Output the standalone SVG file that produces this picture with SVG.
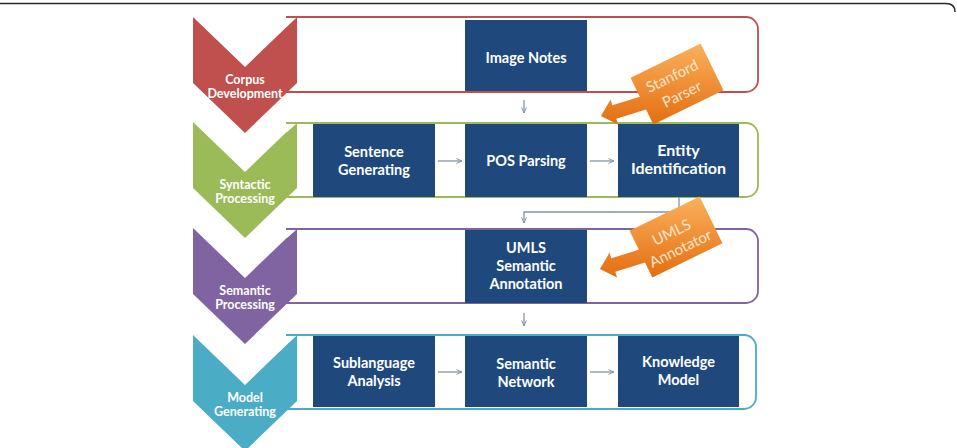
<svg xmlns="http://www.w3.org/2000/svg" xmlns:xlink="http://www.w3.org/1999/xlink" width="957" height="448" viewBox="0 0 957 448">
<defs>
<style>
.box{fill:#1f497d}
.bt{font-family:Lato,"Open Sans","Liberation Sans",sans-serif;font-weight:bold;font-size:14.5px;fill:#ffffff;text-anchor:middle}
.ct{font-family:Lato,"Open Sans","Liberation Sans",sans-serif;font-weight:bold;font-size:12.5px;fill:#ffffff;text-anchor:middle}
.ot{font-family:Lato,"Open Sans","Liberation Sans",sans-serif;font-size:15px;fill:#fde6cc;text-anchor:middle}
.conn{stroke:#8593a8;stroke-width:1.3;fill:none;marker-end:url(#ah)}
.tri{fill:#ffffff}
.frame{fill:none;stroke-width:1.8}
</style>
<marker id="ah" viewBox="0 0 10 10" refX="9" refY="5" markerWidth="7" markerHeight="7" markerUnits="userSpaceOnUse" orient="auto">
<path d="M1,1.5 L9,5 L1,8.5" fill="none" stroke="#8593a8" stroke-width="1.4"/>
</marker>
<linearGradient id="og" gradientUnits="userSpaceOnUse" x1="0" y1="-42" x2="0" y2="42">
<stop offset="0" stop-color="#fbb25e"/>
<stop offset="1" stop-color="#e36d10"/>
</linearGradient>
<g id="callout" fill="url(#og)">
<polygon points="-46.45,-6.29 23.67,-40.45 46.45,6.29 -23.67,40.45"/>
<polygon points="-30.2,10.5 -64.7,21.3 -66.4,15.6 -76.1,32 -59,40.6 -60.7,34.8 -26.2,23.9"/>
</g>
</defs>

<path d="M0,3.5 H946 Q955,3.5 955,12" fill="none" stroke="#2a2a2a" stroke-width="1.6"/>

<g id="row-corpus">
<polygon points="193,17 245,67 297,17 297,83 245,133 193,83" fill="#c0504d"/>
<path class="frame" stroke="#c0504d" d="M286,17 H746 A12,12 0 0 1 758,29 V80 A12,12 0 0 1 746,92 H286"/>
<polygon class="tri" points="287,18 296,18 287,26"/>
<text class="ct" x="245" y="83.5">Corpus</text>
<text class="ct" x="245" y="97.5">Development</text>
</g>

<g id="row-syntactic">
<polygon points="193,122 245,172 297,122 297,188 245,238 193,188" fill="#9bbb59"/>
<path class="frame" stroke="#9bbb59" d="M286,123 H746 A12,12 0 0 1 758,135 V185 A12,12 0 0 1 746,197 H286"/>
<polygon class="tri" points="287,124 296,124 287,132"/>
<text class="ct" x="245" y="188.5">Syntactic</text>
<text class="ct" x="245" y="202.5">Processing</text>
</g>

<g id="row-semantic">
<polygon points="193,228 245,278 297,228 297,294 245,344 193,294" fill="#8064a2"/>
<path class="frame" stroke="#8064a2" d="M286,229 H746 A12,12 0 0 1 758,241 V291 A12,12 0 0 1 746,303 H286"/>
<polygon class="tri" points="287,230 296,230 287,238"/>
<text class="ct" x="245" y="294.5">Semantic</text>
<text class="ct" x="245" y="308.5">Processing</text>
</g>

<g id="row-model">
<polygon points="193,335 245,385 297,335 297,401 245,451 193,401" fill="#4bacc6"/>
<path class="frame" stroke="#4bacc6" d="M286,335 H744 A12,12 0 0 1 756,347 V397 A12,12 0 0 1 744,409 H286"/>
<polygon class="tri" points="287,336 296,336 287,344"/>
<text class="ct" x="245" y="401.5">Model</text>
<text class="ct" x="245" y="415.5">Generating</text>
</g>

<g id="image-notes">
<rect class="box" x="465" y="20" width="122" height="71"/>
<text class="bt" x="526" y="63">Image Notes</text>
</g>

<g id="sentence-generating">
<rect class="box" x="313" y="124" width="122" height="73"/>
<text class="bt" x="374" y="157">Sentence</text>
<text class="bt" x="374" y="175">Generating</text>
</g>

<g id="pos-parsing">
<rect class="box" x="465" y="124" width="122" height="73"/>
<text class="bt" x="526" y="166">POS Parsing</text>
</g>

<g id="entity-identification">
<rect class="box" x="618" y="124" width="121" height="73"/>
<text class="bt" x="678.5" y="155.5" style="font-size:16px">Entity</text>
<text class="bt" x="678.5" y="173.5" style="font-size:16px">Identification</text>
</g>

<g id="umls-semantic-annotation">
<rect class="box" x="465" y="230" width="122" height="73"/>
<text class="bt" x="526" y="253">UMLS</text>
<text class="bt" x="526" y="271">Semantic</text>
<text class="bt" x="526" y="289">Annotation</text>
</g>

<g id="sublanguage-analysis">
<rect class="box" x="313" y="336" width="122" height="71"/>
<text class="bt" x="374" y="368">Sublanguage</text>
<text class="bt" x="374" y="386">Analysis</text>
</g>

<g id="semantic-network">
<rect class="box" x="465" y="336" width="122" height="71"/>
<text class="bt" x="526" y="369">Semantic</text>
<text class="bt" x="526" y="387">Network</text>
</g>

<g id="knowledge-model">
<rect class="box" x="618" y="336" width="121" height="71"/>
<text class="bt" x="678.5" y="367">Knowledge</text>
<text class="bt" x="678.5" y="385">Model</text>
</g>

<g id="connectors">
<path class="conn" d="M524,100 V113"/>
<path class="conn" d="M438,161 H462"/>
<path class="conn" d="M590,161 H614"/>
<path class="conn" d="M679,197 V212 H524 V223"/>
<path class="conn" d="M524,313 V326"/>
<path class="conn" d="M438,372 H462"/>
<path class="conn" d="M590,372 H614"/>
</g>

<g id="stanford-parser">
<use xlink:href="#callout" transform="translate(677,84)"/>
<g transform="translate(677,84) rotate(-26)">
<text class="ot" x="-1" y="-4">Stanford</text>
<text class="ot" x="0" y="16.5">Parser</text>
</g>
</g>

<g id="umls-annotator">
<use xlink:href="#callout" transform="translate(676,237)"/>
<g transform="translate(676,237) rotate(-26)">
<text class="ot" x="-2" y="-1">UMLS</text>
<text class="ot" x="-1" y="17.5">Annotator</text>
</g>
</g>
</svg>
